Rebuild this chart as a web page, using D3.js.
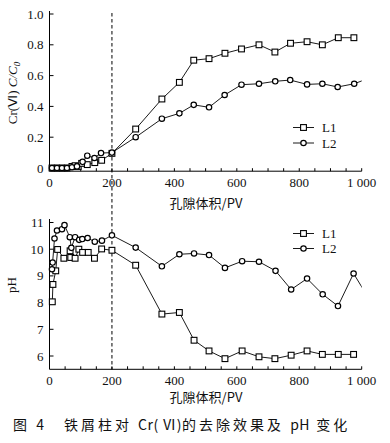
<!DOCTYPE html>
<html><head><meta charset="utf-8">
<script src="https://cdn.jsdelivr.net/npm/d3@7"></script>
<style>
html,body{margin:0;padding:0;background:#fff;}
svg{display:block;}
text{font-family:"Liberation Serif","Times New Roman",serif;fill:#111;}
.cjk{font-family:"Noto Sans CJK SC",sans-serif;}
</style></head>
<body>
<svg id="c" width="390" height="443"></svg>
<script>
// ---- data ----
const pvCrL1 = [8,24,40,56,72,82,92,103,121,145,167,200,276,360,416,462,511,562,615,671,722,772,825,874,925,975];
const crL1   = [0,0,0,0,0.01,0.015,0.01,0.03,0.022,0.035,0.05,0.095,0.253,0.448,0.556,0.70,0.71,0.745,0.773,0.80,0.753,0.81,0.82,0.80,0.846,0.846];
const pvCrL2 = [8,24,40,56,72,88,106,121,144,165,200,276,360,416,462,511,561,615,671,723,771,825,874,923,976,1010];
const crL2   = [0,0,0,0,0.005,0.01,0.04,0.08,0.065,0.097,0.10,0.20,0.32,0.355,0.41,0.394,0.474,0.541,0.547,0.563,0.571,0.543,0.547,0.526,0.547,0.573];
const pvPhL1 = [9,11,20,26,46,66,68,82,94,106,124,144,167,200,276,360,416,463,511,562,617,671,722,774,825,874,925,974];
const phL1   = [8.03,8.68,9.19,9.99,9.66,9.94,9.69,9.66,10.0,9.88,9.88,9.66,10.01,9.96,9.4,7.57,7.63,6.59,6.19,5.9,6.19,5.97,5.9,6.03,6.19,6.06,6.06,6.06];
const pvPhL2 = [8,10,16,24,40,48,65,70,82,95,105,122,145,168,200,276,360,416,463,511,562,617,671,724,774,825,875,924,974,1015];
const phL2   = [9.25,9.5,10.4,10.7,10.75,10.9,10.45,10.05,10.45,10.35,10.38,10.42,10.28,10.32,10.52,10.06,9.36,9.81,9.84,9.78,9.3,9.55,9.53,9.19,8.49,8.9,8.31,7.87,9.09,8.3];
const xTicks = [0,200,400,600,800,1000];
const xTickLabels = ["0","200","400","600","800","1 000"];
const crTicks = [0,0.2,0.4,0.6,0.8,1.0];
const crTickLabels = ["0","0.2","0.4","0.6","0.8","1.0"];
const phTicks = [6,7,8,9,10,11];
const seriesNames = ["L1","L2"];
const markerDividerPV = 200;
const xLabel = "孔隙体积/PV";
const captionParts = [["图 4　铁屑柱对 ",true],["Cr( Ⅵ)",false],["的去除效果及 ",true],["pH",false],[" 变化",true]];

// ---- layout ----
const svg = d3.select("#c");
const x = d3.scaleLinear().domain([0,1000]).range([49.5,361.7]);
const yCr = d3.scaleLinear().domain([0,1]).range([168,14]);
const yPh = d3.scaleLinear().domain([6,11]).range([356,222.5]);
const crBottom = 171.2, crTop = 11;
const phBottom = 369.3, phTop = 219;

svg.append("defs").append("clipPath").attr("id","clip")
  .append("rect").attr("x",x(0)-10).attr("y",0).attr("width",x(1000)-x(0)+10).attr("height",443);

function axes(bottomY, topY, yScale, ticks, labels, labelY){
  const g = svg.append("g");
  g.append("line").attr("x1",x(0)).attr("x2",x(0)).attr("y1",topY).attr("y2",bottomY).attr("stroke","#000").attr("stroke-width",1);
  g.append("line").attr("x1",x(0)).attr("x2",x(1000)).attr("y1",bottomY).attr("y2",bottomY).attr("stroke","#000").attr("stroke-width",1);
  d3.range(50,1001,50).forEach(v=>{
    g.append("line").attr("x1",x(v)).attr("x2",x(v)).attr("y1",bottomY).attr("y2",bottomY-3).attr("stroke","#000").attr("stroke-width",1);
  });
  xTicks.forEach((v,i)=>{
    g.append("text").attr("x",x(v)).attr("y",bottomY+16).attr("text-anchor","middle").attr("font-size",13).text(xTickLabels[i]);
  });
  ticks.forEach((v,i)=>{
    g.append("line").attr("x1",x(0)).attr("x2",x(0)+4).attr("y1",yScale(v)).attr("y2",yScale(v)).attr("stroke","#000").attr("stroke-width",1);
    g.append("text").attr("x",x(0)-6).attr("y",yScale(v)+4.5).attr("text-anchor","end").attr("font-size",13).text(labels[i]);
  });
  g.append("text").attr("class","cjk").attr("x",206).attr("y",labelY).attr("text-anchor","middle").attr("font-size",13).text(xLabel);
}
axes(crBottom, crTop, yCr, crTicks, crTickLabels, 208);
axes(phBottom, phTop, yPh, phTicks, phTicks.map(String), 402);

const yl1 = svg.append("text").attr("transform","translate(17,93) rotate(-90)").attr("text-anchor","middle").attr("font-size",13);
yl1.append("tspan").text("Cr(Ⅵ) ");
yl1.append("tspan").attr("font-style","italic").text("C/C");
yl1.append("tspan").attr("font-style","italic").attr("font-size",9).attr("dy",3).text("0");
svg.append("text").attr("transform","translate(16,285) rotate(-90)").attr("text-anchor","middle").attr("font-size",13).text("pH");

svg.append("line").attr("x1",x(markerDividerPV)).attr("x2",x(markerDividerPV)).attr("y1",13).attr("y2",phBottom)
  .attr("stroke","#000").attr("stroke-width",1).attr("stroke-dasharray","3.5,2.5");

function series(pv, vals, yScale, shape){
  const pts = pv.map((p,i)=>[p,vals[i]]);
  const g = svg.append("g").attr("clip-path","url(#clip)");
  g.append("path").datum(pts).attr("fill","none").attr("stroke","#000").attr("stroke-width",0.9)
    .attr("d",d3.line().x(d=>x(d[0])).y(d=>yScale(d[1])));
  drawMarkers(g, pts.filter(d=>d[0]<=1000), yScale, shape);
}
function drawMarkers(g, pts, yScale, shape){
  if(shape==="square"){
    g.selectAll(null).data(pts).enter().append("rect")
      .attr("x",d=>x(d[0])-2.9).attr("y",d=>yScale(d[1])-2.9).attr("width",5.8).attr("height",5.8)
      .attr("fill","#fff").attr("stroke","#000").attr("stroke-width",1.1);
  } else {
    g.selectAll(null).data(pts).enter().append("circle")
      .attr("cx",d=>x(d[0])).attr("cy",d=>yScale(d[1])).attr("r",2.7)
      .attr("fill","#fff").attr("stroke","#000").attr("stroke-width",1.2);
  }
}
series(pvCrL1, crL1, yCr, "square");
series(pvCrL2, crL2, yCr, "circle");
series(pvPhL1, phL1, yPh, "square");
series(pvPhL2, phL2, yPh, "circle");

function legend(y1, y2){
  [[y1,"square",seriesNames[0]],[y2,"circle",seriesNames[1]]].forEach(([yy,shape,name])=>{
    svg.append("line").attr("x1",293).attr("x2",314).attr("y1",yy).attr("y2",yy).attr("stroke","#000").attr("stroke-width",0.9);
    if(shape==="square"){
      svg.append("rect").attr("x",303.5-2.9).attr("y",yy-2.9).attr("width",5.8).attr("height",5.8).attr("fill","#fff").attr("stroke","#000").attr("stroke-width",1.1);
    } else {
      svg.append("circle").attr("cx",303.5).attr("cy",yy).attr("r",2.7).attr("fill","#fff").attr("stroke","#000").attr("stroke-width",1.2);
    }
    svg.append("text").attr("x",322).attr("y",yy+4.5).attr("font-size",13).text(name);
  });
}
legend(127.5,143);
legend(233.5,248.5);

const cap = svg.append("text").attr("class","cjk").attr("x",13).attr("y",430).attr("font-size",14).attr("fill","#222");
captionParts.forEach(([t,sp])=>{
  cap.append("tspan").attr("letter-spacing",sp?3:0.5).text(t);
});
</script>
</body></html>
